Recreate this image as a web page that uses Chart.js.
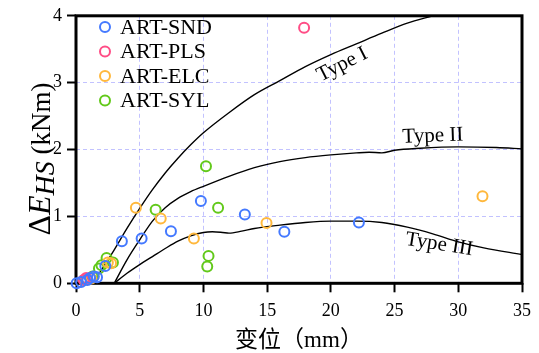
<!DOCTYPE html>
<html>
<head>
<meta charset="utf-8">
<script src="https://cdn.jsdelivr.net/npm/chart.js@4"></script>
<style>
  html, body { margin: 0; padding: 0; background: #fff; }
  #wrap { width: 539px; height: 353px; }
</style>
</head>
<body>
<div id="wrap"><canvas id="chart"></canvas></div>
<script>
// Test series: displacement (mm) vs energy difference (kNm)
const seriesNames = ['ART-SND', 'ART-PLS', 'ART-ELC', 'ART-SYL'];
const seriesColors = ['#4479ff', '#ff4d86', '#ffb83d', '#62c91a'];

const sndPoints = [[0.05, 0.0], [0.4, 0.02], [0.9, 0.05], [1.1, 0.08], [1.4, 0.1], [1.65, 0.09], [2.3, 0.26],
  [3.6, 0.63], [5.15, 0.67], [7.45, 0.78], [9.8, 1.23], [13.25, 1.03], [16.35, 0.77], [22.2, 0.91]];
const plsPoints = [[17.9, 3.82], [0.8, 0.08], [0.6, 0.05]];
const elcPoints = [[4.7, 1.13], [6.65, 0.97], [9.25, 0.67], [14.95, 0.9], [31.9, 1.3], [2.5, 0.31],
  [2.75, 0.3], [0.7, 0.05], [1.2, 0.07]];
const sylPoints = [[10.2, 1.75], [6.25, 1.1], [11.15, 1.13], [10.4, 0.41], [10.3, 0.25], [2.4, 0.38],
  [2.9, 0.31], [1.8, 0.22], [2.0, 0.27], [1.3, 0.1]];

// Reference curves
const typeI = [[1.3, 0], [2, 0.2], [3, 0.5], [4, 0.82], [5, 1.12], [6, 1.4], [7, 1.65], [8, 1.87], [9, 2.07],
  [10, 2.25], [12, 2.55], [14, 2.82], [16, 3.03], [18, 3.24], [20, 3.42], [22, 3.58], [24, 3.74], [26, 3.89], [28, 4.0]];
const typeII = [[3, 0], [4, 0.35], [5, 0.65], [6, 0.93], [7, 1.13], [8, 1.27], [9, 1.37], [10, 1.45], [12, 1.6],
  [14, 1.73], [16, 1.82], [18, 1.88], [20, 1.92], [22, 1.95], [23, 1.96], [24, 1.95], [25, 1.99], [27, 2.02],
  [30, 2.04], [33, 2.03], [35, 2.01]];
const typeIII = [[3, 0], [4, 0.15], [5, 0.28], [6, 0.4], [7, 0.52], [8, 0.63], [9, 0.71], [10, 0.76], [10.7, 0.77],
  [11.5, 0.76], [12, 0.75], [13, 0.78], [14, 0.82], [16, 0.87], [18, 0.91], [20, 0.93], [22, 0.93], [24, 0.91],
  [26, 0.84], [28, 0.74], [30, 0.62], [32, 0.53], [35, 0.43]];

// Curve labels: text, x, y, angle (deg)
const curveLabels = [['Type I', 20.9, 3.27, -27], ['Type II', 28.0, 2.2, -2], ['Type III', 28.5, 0.58, 9]];

const xTicks = [0, 5, 10, 15, 20, 25, 30, 35];
const yTicks = [0, 1, 2, 3, 4];

const serif = "'Liberation Serif', 'Times New Roman', serif";
const toXY = arr => arr.map(p => ({ x: p[0], y: p[1] }));

const scatterSets = [sndPoints, plsPoints, elcPoints, sylPoints].map((pts, i) => ({
  type: 'scatter',
  label: seriesNames[i],
  data: toXY(pts),
  borderColor: seriesColors[i],
  backgroundColor: 'rgba(0,0,0,0)',
  pointRadius: 5,
  pointBorderWidth: 2,
  clip: false
}));

const curveSets = [typeI, typeII, typeIII].map((pts, i) => ({
  type: 'line',
  label: 'curve' + i,
  data: toXY(pts),
  borderColor: '#000',
  borderWidth: 1.4,
  pointRadius: 0,
  cubicInterpolationMode: 'monotone',
  fill: false
}));

// Frame round the plot area
const framePlugin = {
  id: 'frame',
  beforeDatasetsDraw(chart) {
    const { ctx, chartArea: a } = chart;
    ctx.save();
    ctx.strokeStyle = '#000';
    ctx.lineWidth = 3;
    ctx.strokeRect(a.left, a.top, a.right - a.left, a.bottom - a.top);
    ctx.restore();
  }
};

// Legend inside the top-left corner
const legendPlugin = {
  id: 'innerLegend',
  afterDraw(chart) {
    const ctx = chart.ctx;
    ctx.save();
    ctx.font = '22px ' + serif;
    ctx.textBaseline = 'middle';
    seriesNames.forEach((name, i) => {
      const y = 27 + i * 24.5;
      ctx.beginPath();
      ctx.arc(105, y, 5, 0, Math.PI * 2);
      ctx.lineWidth = 2;
      ctx.strokeStyle = seriesColors[i];
      ctx.stroke();
      ctx.fillStyle = '#000';
      ctx.fillText(name, 120, y + 1);
    });
    ctx.restore();
  }
};

// Curve names and the y axis title (mixed italic / subscript)
const textPlugin = {
  id: 'annot',
  afterDatasetsDraw(chart) {
    const { ctx, scales: { x, y } } = chart;
    ctx.save();
    ctx.fillStyle = '#000';
    ctx.font = '21px ' + serif;
    ctx.textAlign = 'center';
    ctx.textBaseline = 'middle';
    curveLabels.forEach(([t, vx, vy, ang]) => {
      ctx.save();
      ctx.translate(x.getPixelForValue(vx), y.getPixelForValue(vy));
      ctx.rotate(ang * Math.PI / 180);
      ctx.fillText(t, 0, 0);
      ctx.restore();
    });

    const parts = [
      { t: '\u0394', f: '32px ' + serif, dy: 0 },
      { t: 'E', f: 'italic 32px ' + serif, dy: 0 },
      { t: 'HS', f: 'italic 28px ' + serif, dy: 4 },
      { t: ' (kNm)', f: '27px ' + serif, dy: 0 }
    ];
    let total = 0;
    parts.forEach(p => { ctx.font = p.f; p.w = ctx.measureText(p.t).width; total += p.w; });
    ctx.translate(40, 159);
    ctx.rotate(-Math.PI / 2);
    ctx.textAlign = 'left';
    ctx.textBaseline = 'alphabetic';
    let cx = -total / 2;
    parts.forEach(p => {
      ctx.font = p.f;
      ctx.fillText(p.t, cx, 10 + p.dy);
      cx += p.w;
    });
    ctx.restore();
  }
};

const gridColor = ctx => {
  const v = ctx.tick ? ctx.tick.value : null;
  const s = ctx.scale;
  if (v === s.min || v === s.max) return 'rgba(0,0,0,0)';
  return 'rgba(120,120,255,0.45)';
};

new Chart(document.getElementById('chart'), {
  data: { datasets: scatterSets.concat(curveSets) },
  options: {
    responsive: true,
    maintainAspectRatio: false,
    animation: false,
    layout: { padding: { left: 0, right: 9.5, top: 10, bottom: 0 } },
    plugins: { legend: { display: false }, tooltip: { enabled: false } },
    scales: {
      x: {
        type: 'linear',
        min: 0,
        max: 35,
        afterBuildTicks: s => { s.ticks = xTicks.map(v => ({ value: v })); },
        afterFit: s => { s.height = 69.7; },
        grid: { color: gridColor, lineWidth: 1, tickLength: 9, tickColor: '#000', tickWidth: 2 },
        border: { display: false, dash: [4, 3] },
        ticks: { color: '#000', padding: 8, font: { family: serif, size: 18 } },
        title: {
          display: true,
          text: '变位（mm）',
          color: '#000',
          font: { family: serif + ", 'Noto Sans CJK SC'", size: 23, lineHeight: 1 },
          padding: { top: 0, bottom: 1 }
        }
      },
      y: {
        type: 'linear',
        min: 0,
        max: 4,
        afterBuildTicks: s => { s.ticks = yTicks.map(v => ({ value: v })); },
        afterFit: s => { s.width = 76; },
        grid: { color: gridColor, lineWidth: 1, tickLength: 9, tickColor: '#000', tickWidth: 2 },
        border: { display: false, dash: [4, 3] },
        ticks: { color: '#000', padding: 5, font: { family: serif, size: 18 } }
      }
    }
  },
  plugins: [framePlugin, legendPlugin, textPlugin]
});
</script>
</body>
</html>
